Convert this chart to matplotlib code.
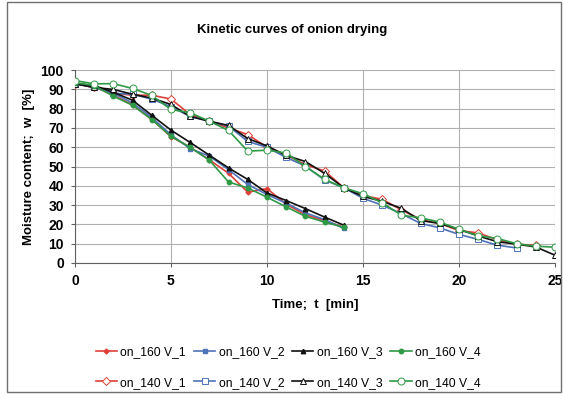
import matplotlib.pyplot as plt
from matplotlib.patches import Rectangle

plt.rcParams['font.family'] = ['Liberation Sans', 'DejaVu Sans']

# time axis [min]
t160 = list(range(0, 15))
t140_1 = list(range(0, 25))
t140_2 = list(range(0, 24))
t140_3 = list(range(0, 26))
t140_4 = list(range(0, 26))

# moisture content w [%] - 160 W series
w160_1 = [93, 91.5, 87, 82, 74.5, 65.5, 60, 53.5, 46.5, 36.7, 38.6, 30.5, 25, 22, 18.5]
w160_2 = [93, 91.5, 88, 83, 75.5, 66.5, 59.3, 55.4, 48.4, 40.7, 35.5, 31, 26, 22.5, 17.9]
w160_3 = [93, 92, 88.5, 84.4, 76.6, 68.9, 62.5, 55.9, 49.3, 43.3, 36.3, 32.4, 28.2, 23.8, 19.6]
w160_4 = [93.5, 92, 86.5, 81.8, 74.4, 65.7, 60, 53.3, 42, 38.9, 34.1, 29.1, 24.2, 21.2, 18.5]

# moisture content w [%] - 140 W series
w140_1 = [93, 91, 88, 87, 87, 85, 77, 73.5, 70, 66.6, 60, 56, 51, 47.7, 39, 35, 33, 27.5, 22.6, 20.5, 16.8, 15.6, 12, 9.7, 9.2]
w140_2 = [93, 91, 88, 87.5, 85, 81, 76, 73.5, 71, 63, 60, 54.7, 50.3, 43, 39, 33.5, 30, 25.5, 20.5, 18.2, 14.8, 12.2, 9.2, 7.8]
w140_3 = [93, 91, 90, 87.5, 85.5, 82.2, 76, 73.5, 71.3, 64.5, 60.7, 55.8, 52.6, 46.5, 39, 34.5, 32, 28.3, 22, 20.5, 17.4, 14, 11, 9.8, 8.3, 4]
w140_4 = [94.6, 92.9, 93, 90.5, 86.9, 79.6, 77.9, 73.5, 68.7, 58, 58.5, 57, 50, 43.4, 39, 35.9, 31.2, 24.8, 23.4, 21.2, 17.4, 14.2, 12.7, 10, 8.7, 8.2]

labels160 = ['on_160 V_1', 'on_160 V_2', 'on_160 V_3', 'on_160 V_4']
labels140 = ['on_140 V_1', 'on_140 V_2', 'on_140 V_3', 'on_140 V_4']

colors = ['#e0403a', '#4f72b8', '#111111', '#2f9a45']
markers = ['D', 's', '^', 'o']

fig = plt.figure(figsize=(5.63, 3.94), dpi=100)
ax = fig.add_axes([0.133, 0.3325, 0.853, 0.4895])

ser160 = [w160_1, w160_2, w160_3, w160_4]
ser140 = [(t140_1, w140_1), (t140_2, w140_2), (t140_3, w140_3), (t140_4, w140_4)]

handles = []
for i in range(4):
    h1, = ax.plot(t160, ser160[i], color=colors[i], marker=markers[i],
                  markersize=3.2 if markers[i] != 'D' else 2.5, lw=1.2,
                  label=labels160[i], zorder=3)
    tt, ww = ser140[i]
    h2, = ax.plot(tt, ww, color=colors[i], marker=markers[i],
                  markersize=5 if markers[i] != 'D' else 4, lw=1.2,
                  markerfacecolor='white', markeredgewidth=0.7,
                  label=labels140[i], zorder=3)
    handles += [h1, h2]

ax.set_xlim(0, 25)
ax.set_ylim(0, 100)
ax.set_xticks(range(0, 26, 5))
ax.set_yticks(range(0, 101, 10))
ax.grid(True, color='#b0b0b0', lw=0.8)
ax.set_axisbelow(True)
for s in ['top', 'right']:
    ax.spines[s].set_visible(False)
ax.spines['left'].set_color('#606060')
ax.spines['bottom'].set_color('#606060')
ax.tick_params(labelsize=10, length=3, color='#606060', pad=5)
for lab in ax.get_xticklabels() + ax.get_yticklabels():
    lab.set_fontweight('bold')

ax.set_xlabel('Time;  t  [min]', fontsize=9.5, fontweight='bold', labelpad=8)
ax.set_ylabel('Moisture content;  w  [%]', fontsize=9.5, fontweight='bold', labelpad=4)
fig.text(0.518, 0.925, 'Kinetic curves of onion drying', ha='center', va='center',
         fontsize=9.5, fontweight='bold')

fig.legend(handles=handles, ncol=4, frameon=False, loc='center',
           bbox_to_anchor=(0.512, 0.067), fontsize=8.7, labelspacing=1.5,
           handlelength=1.75, handletextpad=0.3, columnspacing=0.65)

fig.patches.append(Rectangle((0.012, 0.005), 0.985, 0.99, transform=fig.transFigure,
                             fill=False, edgecolor='#707070', lw=1))

fig.savefig('out.png', dpi=100)
